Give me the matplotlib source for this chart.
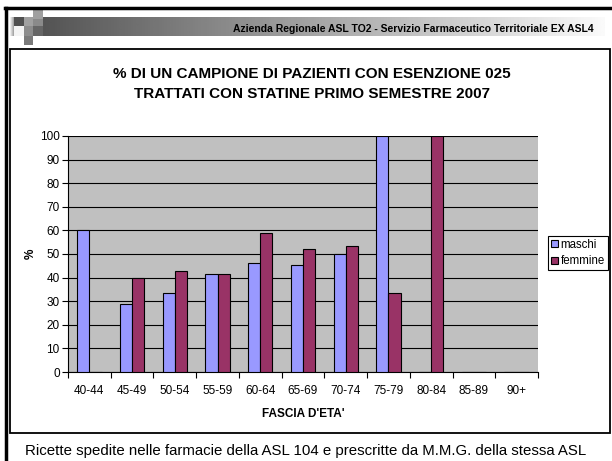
import numpy as np
import matplotlib.pyplot as plt
from matplotlib.patches import Rectangle

plt.rcParams['font.family'] = ['Liberation Sans', 'DejaVu Sans']

fasce = ['40-44', '45-49', '50-54', '55-59', '60-64', '65-69',
         '70-74', '75-79', '80-84', '85-89', '90+']
maschi = [60, 29, 33.3, 41.7, 46.2, 45.5, 50, 100, 0, 0, 0]
femmine = [0, 40, 42.9, 41.7, 59, 52.3, 53.5, 33.3, 100, 0, 0]

W, H = 612, 461
fig = plt.figure(figsize=(W / 100, H / 100), dpi=100)

# decorations in pixel coordinates
bg = fig.add_axes([0, 0, 1, 1])
bg.set_xlim(0, W)
bg.set_ylim(H, 0)
bg.axis('off')

# banner gradient
bg.imshow(np.tile(np.linspace(0.95, 0.45, 10), (2, 1)), cmap='gray', vmin=0, vmax=1,
          aspect='auto', extent=(10, 16, 36, 17), zorder=1)
bg.imshow(np.tile(np.linspace(0.33, 0.98, 200), (2, 1)), cmap='gray', vmin=0, vmax=1,
          aspect='auto', extent=(42, 605, 36, 17), zorder=1)
for x0, y0, c in [(14, 17, '#505050'), (14, 26.5, '#f4f4f4'), (23.5, 17, '#a0a0a0'),
                  (23.5, 26.5, '#8c8c8c'), (23.5, 36, '#7a7a7a'), (33, 17, '#8a8a8a'),
                  (33, 26.5, '#666666'), (33, 10, '#a0a0a0')]:
    bg.add_patch(Rectangle((x0, y0), 9.5, 9.5, color=c, zorder=2, lw=0))
bg.text(594, 29, 'Azienda Regionale ASL TO2 - Servizio Farmaceutico Territoriale EX ASL4',
        ha='right', va='center', fontsize=7.5, fontweight='bold', zorder=3)

# slide frame
bg.plot([5, W], [8.5, 8.5], color='black', lw=2.5, zorder=3)
bg.plot([6, 6], [8.5, H], color='black', lw=2.5, zorder=3)
bg.add_patch(Rectangle((9.5, 49), 600.5, 384, fill=False, ec='black', lw=1.3, zorder=3))

bg.text(312, 84, '% DI UN CAMPIONE DI PAZIENTI CON ESENZIONE 025\nTRATTATI CON STATINE PRIMO SEMESTRE 2007',
        ha='center', va='center', fontsize=11, fontweight='bold', linespacing=1.55)
bg.text(306, 451, 'Ricette spedite nelle farmacie della ASL 104 e prescritte da M.M.G. della stessa ASL',
        ha='center', va='center', fontsize=10.8)

# chart
ax = fig.add_axes([68 / W, (H - 372) / H, 470 / W, 236 / H])
ax.set_facecolor('#c0c0c0')
x = np.arange(len(fasce))
w = 0.285
ax.bar(x - w / 2, maschi, w, color='#9999ff', edgecolor='black', linewidth=0.8,
       label='maschi', zorder=3)
ax.bar(x + w / 2, femmine, w, color='#993366', edgecolor='black', linewidth=0.8,
       label='femmine', zorder=3)

ax.set_xlim(-0.5, len(fasce) - 0.5)
ax.set_ylim(0, 100)
ax.set_yticks(range(0, 101, 10))
ax.yaxis.grid(True, color='black', lw=0.8, zorder=1)
ax.set_axisbelow(True)
ax.set_xticks(x)
ax.set_xticklabels(fasce)
ax.set_xticks(np.arange(-0.5, len(fasce), 1), minor=True)
ax.tick_params(axis='x', which='major', length=0, labelsize=8.5, pad=9)
ax.tick_params(axis='x', which='minor', length=4, width=0.8, direction='out')
ax.tick_params(axis='y', length=4, width=0.8, labelsize=8.5, pad=2)
for s in ['top', 'right']:
    ax.spines[s].set_visible(False)
ax.spines['left'].set_linewidth(0.8)
ax.spines['bottom'].set_linewidth(0.8)

ax.set_xlabel("FASCIA D'ETA'", fontsize=8.5, fontweight='bold', labelpad=8)
ax.set_ylabel('%', fontsize=8.5, fontweight='bold', labelpad=2)

leg = fig.legend(loc='center left', bbox_to_anchor=(548 / W, 1 - 253 / H), fontsize=8.3,
                 frameon=True, fancybox=False, edgecolor='black', framealpha=1,
                 handlelength=0.6, handleheight=0.6, handletextpad=0.25,
                 borderpad=0.25, labelspacing=0.4, borderaxespad=0)
leg.get_frame().set_linewidth(0.8)

fig.savefig('out.png', dpi=100)
